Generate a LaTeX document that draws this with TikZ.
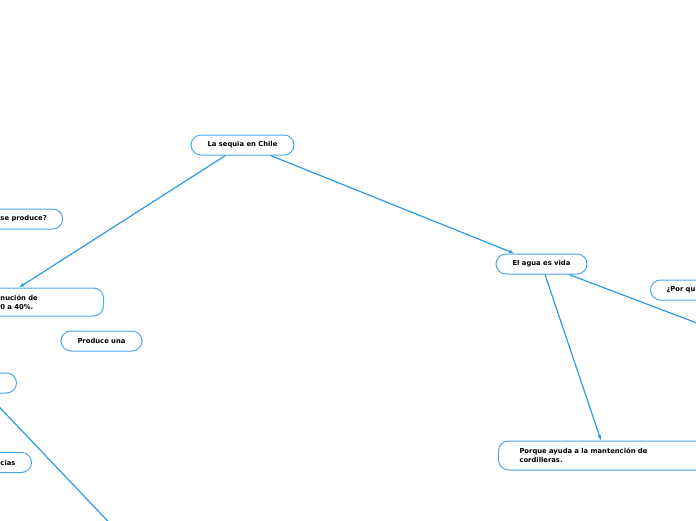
\documentclass[tikz,border=0pt]{standalone}
\usepackage{fontspec}
\setmainfont{DejaVu Sans}
\usetikzlibrary{positioning,arrows.meta}
\definecolor{mapblue}{HTML}{2A9BE6}
\definecolor{boxblue}{HTML}{4AA8EC}

\begin{document}
\begin{tikzpicture}[x=1pt,y=-1pt,
    topic/.style={draw=boxblue, line width=1pt, rounded corners=10pt, fill=white,
      font=\fontsize{6.8}{9}\selectfont\bfseries, minimum height=20pt,
      inner xsep=16pt, inner ysep=0pt},
    link/.style={draw=mapblue, line width=1.2pt, -{Latex[length=5.5pt,width=4pt]}}]
  \useasboundingbox (0,0) rectangle (696,520);
  \clip (0,0) rectangle (696,520);
  % main topic and branches
  \node[topic, minimum width=103pt] (sequia) at (242.5,145) {La sequia en Chile};
  \node[topic, anchor=west] (produce) at (-16,219) {se produce?};
  \node[topic, anchor=west, minimum height=28pt, text width=87pt, align=left] (descenso) at (-16,302) {nución de\\0 a 40\%.};
  \node[topic, minimum width=81pt] (causa) at (101.5,341) {Produce una};
  \node[topic, anchor=east, minimum width=80pt] (efecto) at (17,383) {};
  \node[topic, anchor=west] (consec) at (-16,462.5) {cias};
  \node[topic, minimum width=91pt] (agua) at (541.5,264) {El agua es vida};
  \node[topic, anchor=west, text width=60pt, align=left] (porque) at (650,290) {¿Por qu};
  \node[topic, anchor=west, text width=170pt, align=left, inner xsep=21pt, minimum height=29pt] (mantencion) at (498,455.5) {Porque ayuda a la mantención de\\cordilleras.};
  \coordinate (offright) at (760,347);
  \coordinate (offbottom) at (140,555);
  % connectors
  \draw[link] ([xshift=-17pt]sequia.south) -- ([xshift=35pt]descenso.north west);
  \draw[link] ([xshift=28pt]sequia.south) -- ([xshift=19pt]agua.north west);
  \draw[link] ([xshift=3.5pt]agua.south) -- ([xshift=103pt]mantencion.north west);
  \draw[link] ([xshift=27.5pt]agua.south) -- (offright);
  \draw[link] ([xshift=10pt]efecto.south) -- (offbottom);
\end{tikzpicture}
\end{document}
